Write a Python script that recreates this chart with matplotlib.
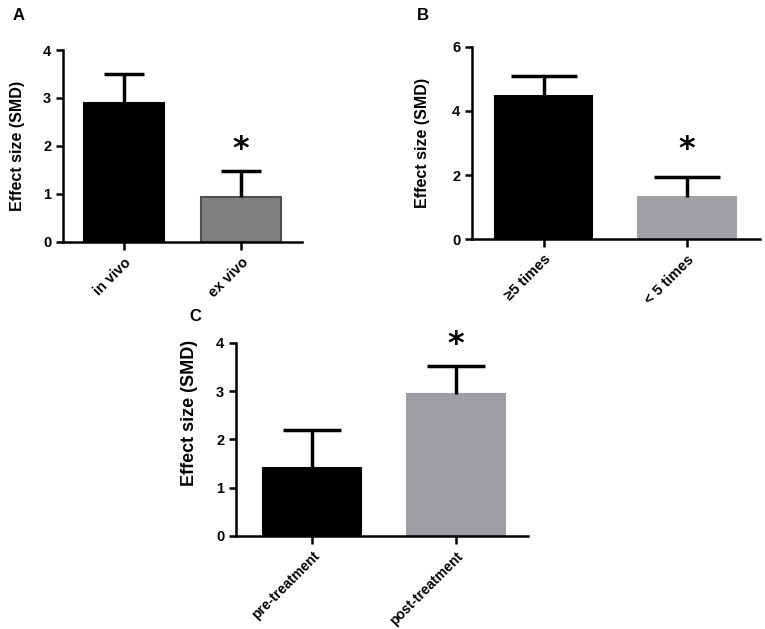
import matplotlib
matplotlib.use("Agg")
import matplotlib.pyplot as plt
import numpy as np

plt.rcParams['font.family'] = ['Liberation Sans', 'DejaVu Sans']
plt.rcParams['font.weight'] = 'bold'

# panel A
a_labels = ["in vivo", "ex vivo"]
a_vals = [2.9, 0.93]
a_err = [0.6, 0.55]
# panel B
b_labels = ["\u22655 times", "< 5 times"]
b_vals = [4.47, 1.3]
b_err = [0.63, 0.63]
# panel C
c_labels = ["pre-treatment", "post-treatment"]
c_vals = [1.4, 2.95]
c_err = [0.8, 0.57]

fig = plt.figure(figsize=(7.65, 6.29), dpi=100)


def panel(rect, labels, vals, err, colors, edges, ymax, yticks, cap, star_y, star_i,
          letter, letter_xy, xlim, ylab_size, ylab_xy, xlab_size):
    ax = fig.add_axes(rect)
    x = np.arange(len(vals))
    vals = np.array(vals)
    top = vals + np.array(err)
    ax.bar(x, vals, width=0.68, color=colors, edgecolor=edges, linewidth=1.5, zorder=2)
    # upper error bars only
    ax.vlines(x, vals, top, color='black', linewidth=2.5, zorder=3)
    ax.hlines(top, x - cap, x + cap, color='black', linewidth=2.5, zorder=3)
    ax.set_xlim(*xlim)
    ax.set_ylim(0, ymax)
    ax.set_yticks(yticks)
    ax.set_xticks(list(x))
    ax.set_xticklabels(labels, rotation=45, ha='right', rotation_mode='anchor', fontsize=xlab_size)
    ax.tick_params(axis='y', labelsize=10.5, width=1.8, length=5)
    ax.tick_params(axis='x', width=1.8, length=6)
    for s in ['top', 'right']:
        ax.spines[s].set_visible(False)
    for s in ['left', 'bottom']:
        ax.spines[s].set_linewidth(1.8)
    ax.set_ylabel("Effect size (SMD)", fontsize=ylab_size, fontweight='bold')
    ax.yaxis.set_label_coords(*ylab_xy)
    ax.text(star_i, star_y, "*", ha='center', va='center', fontsize=23, fontweight='bold',
            family='DejaVu Sans', zorder=4)
    fig.text(letter_xy[0], letter_xy[1], letter, fontsize=12, fontweight='bold', ha='left', va='center')
    return ax


panel([0.0824, 0.6153, 0.3124, 0.3052], a_labels, a_vals, a_err,
      ['black', '#808080'], ['black', '#505050'], 4, [0, 1, 2, 3, 4], 0.17,
      1.93, 1, "A", (0.016, 0.975), (-0.52, 1.52), 11.5, (-0.16, 0.5), 10.5)
panel([0.617, 0.620, 0.3765, 0.3053], b_labels, b_vals, b_err,
      ['black', '#a1a1a5'], ['black', '#a1a1a5'], 6, [0, 2, 4, 6], 0.23,
      2.8, 1, "B", (0.545, 0.975), (-0.50, 1.51), 11.5, (-0.146, 0.5), 10.5)
panel([0.3085, 0.1479, 0.3817, 0.3068], c_labels, c_vals, c_err,
      ['black', '#9e9ea2'], ['black', '#9e9ea2'], 4, [0, 1, 2, 3, 4], 0.2,
      3.97, 1, "C", (0.247, 0.497), (-0.53, 1.50), 13, (-0.13, 0.64), 10)

fig.savefig("out.png", dpi=100)
